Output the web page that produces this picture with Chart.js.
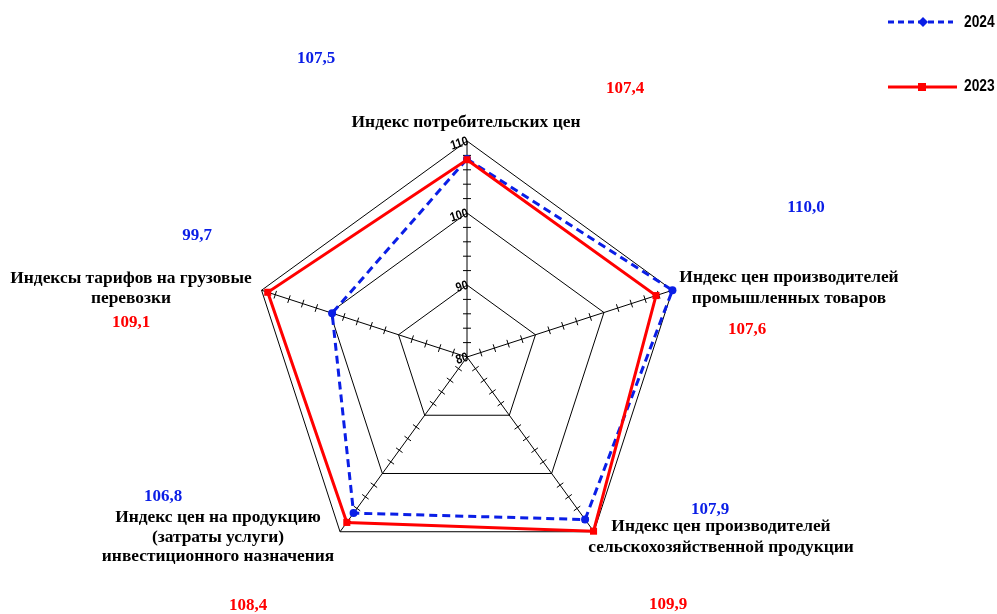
<!DOCTYPE html>
<html lang="ru">
<head>
<meta charset="utf-8">
<title>Индексы цен</title>
<script src="https://cdn.jsdelivr.net/npm/chart.js@4.4.1/dist/chart.umd.min.js"></script>
<style>
  html, body { margin: 0; padding: 0; background: #fff; }
  #wrap { width: 997px; height: 614px; }
</style>
</head>
<body>
<div id="wrap"><canvas id="radarChart" width="997" height="614"></canvas></div>
<script>
// Chart data
const categories = [
  ["Индекс потребительских цен"],
  ["Индекс цен производителей", "промышленных товаров"],
  ["Индекс цен производителей", "сельскохозяйственной продукции"],
  ["Индекс цен на продукцию", "(затраты услуги)", "инвестиционного назначения"],
  ["Индексы тарифов на грузовые", "перевозки"],
];
const values2024 = [107.5, 110.0, 107.9, 106.8, 99.7];
const values2023 = [107.4, 107.6, 109.9, 108.4, 109.1];
const scaleTicks = [80, 90, 100, 110];

// Where the texts sit (centre of the first line of each text block)
const categoryLabelPos = [[466, 123], [789, 278], [721, 527], [218, 518], [131, 279]];
const categoryLineHeight = [20, 21, 21, 19.5, 20];
const label2024Pos = [[316, 59], [806, 208], [710, 510], [163, 497], [197, 236]];
const label2023Pos = [[625, 89], [747, 330], [668, 605], [248, 606], [131, 323]];

const BLUE = "#0a1ee6";
const RED = "#ff0000";
const SERIF = "'Liberation Serif', 'Times New Roman', serif";

function fmt(v) {
  return v.toFixed(1).replace(".", ",");
}

// Small cross ticks along every axis line + rotated tick labels on the top axis
const axisTicksPlugin = {
  id: "axisTicks",
  beforeDatasetsDraw(chart) {
    const scale = chart.scales.r;
    const ctx = chart.ctx;
    ctx.save();
    ctx.strokeStyle = "#000";
    ctx.lineWidth = 1;
    for (let i = 0; i < categories.length; i++) {
      const end = scale.getPointPositionForValue(i, scale.max);
      const ang = Math.atan2(end.y - scale.yCenter, end.x - scale.xCenter);
      const nx = -Math.sin(ang), ny = Math.cos(ang);
      for (let v = scale.min + 2; v < scale.max; v += 2) {
        if (v % 10 === 0) continue;
        const p = scale.getPointPositionForValue(i, v);
        ctx.beginPath();
        ctx.moveTo(p.x - nx * 4, p.y - ny * 4);
        ctx.lineTo(p.x + nx * 4, p.y + ny * 4);
        ctx.stroke();
      }
    }
    ctx.fillStyle = "#000";
    ctx.font = "bold 13px 'Liberation Sans', Arial, sans-serif";
    ctx.textAlign = "right";
    ctx.textBaseline = "middle";
    scaleTicks.forEach((t) => {
      const p = scale.getPointPositionForValue(0, t);
      ctx.save();
      ctx.translate(p.x + 1, p.y);
      ctx.rotate(-0.3);
      ctx.scale(0.85, 1);
      ctx.fillText(String(t), 0, 0);
      ctx.restore();
    });
    ctx.restore();
  },
  afterDraw(chart) {
    const ctx = chart.ctx;
    ctx.save();
    ctx.textAlign = "center";
    ctx.textBaseline = "middle";
    // category names
    ctx.fillStyle = "#000";
    ctx.font = "bold 17.4px " + SERIF;
    categories.forEach((lines, i) => {
      const [cx, cy] = categoryLabelPos[i];
      lines.forEach((ln, k) => ctx.fillText(ln, cx, cy + k * categoryLineHeight[i]));
    });
    // value labels
    ctx.font = "bold 17px " + SERIF;
    ctx.fillStyle = BLUE;
    values2024.forEach((v, i) => ctx.fillText(fmt(v), label2024Pos[i][0], label2024Pos[i][1]));
    ctx.fillStyle = RED;
    values2023.forEach((v, i) => ctx.fillText(fmt(v), label2023Pos[i][0], label2023Pos[i][1]));

    // legend
    ctx.lineWidth = 3;
    ctx.strokeStyle = BLUE;
    ctx.setLineDash([6, 4]);
    ctx.beginPath();
    ctx.moveTo(888, 22);
    ctx.lineTo(953, 22);
    ctx.stroke();
    ctx.setLineDash([]);
    ctx.fillStyle = BLUE;
    ctx.beginPath();
    ctx.moveTo(923, 17);
    ctx.lineTo(928, 22);
    ctx.lineTo(923, 27);
    ctx.lineTo(918, 22);
    ctx.closePath();
    ctx.fill();

    ctx.strokeStyle = RED;
    ctx.beginPath();
    ctx.moveTo(888, 87);
    ctx.lineTo(957, 87);
    ctx.stroke();
    ctx.fillStyle = RED;
    ctx.fillRect(918, 83, 8, 8);

    ctx.fillStyle = "#000";
    ctx.font = "bold 16px 'Liberation Sans', Arial, sans-serif";
    ctx.textAlign = "left";
    [["2024", 23], ["2023", 87]].forEach(([txt, y]) => {
      ctx.save();
      ctx.translate(964, y);
      ctx.scale(0.86, 1);
      ctx.fillText(txt, 0, 0);
      ctx.restore();
    });
    ctx.restore();
  },
};

document.addEventListener("DOMContentLoaded", function () {
  const ctx = document.getElementById("radarChart");
  new Chart(ctx, {
    type: "radar",
    data: {
      labels: categories,
      datasets: [
        {
          label: "2024",
          data: values2024,
          borderColor: BLUE,
          backgroundColor: BLUE,
          borderWidth: 3,
          borderDash: [8, 5],
          fill: false,
          tension: 0,
          pointStyle: "circle",
          pointRadius: 4,
          pointBackgroundColor: BLUE,
          pointBorderWidth: 0,
          order: 1,
        },
        {
          label: "2023",
          data: values2023,
          borderColor: RED,
          backgroundColor: RED,
          borderWidth: 3,
          fill: false,
          tension: 0,
          pointStyle: "rect",
          pointRadius: 5,
          pointBackgroundColor: RED,
          pointBorderWidth: 0,
          order: 0,
        },
      ],
    },
    options: {
      responsive: false,
      animation: false,
      layout: {
        padding: { left: 251, right: 314, top: 141, bottom: 41 },
      },
      plugins: {
        legend: { display: false },
        tooltip: { enabled: false },
      },
      scales: {
        r: {
          min: 80,
          max: 110,
          ticks: { stepSize: 10, display: false },
          grid: { color: "#000", lineWidth: 1 },
          angleLines: { color: "#000", lineWidth: 1 },
          pointLabels: { display: false },
        },
      },
    },
    plugins: [axisTicksPlugin],
  });
});
</script>
</body>
</html>
